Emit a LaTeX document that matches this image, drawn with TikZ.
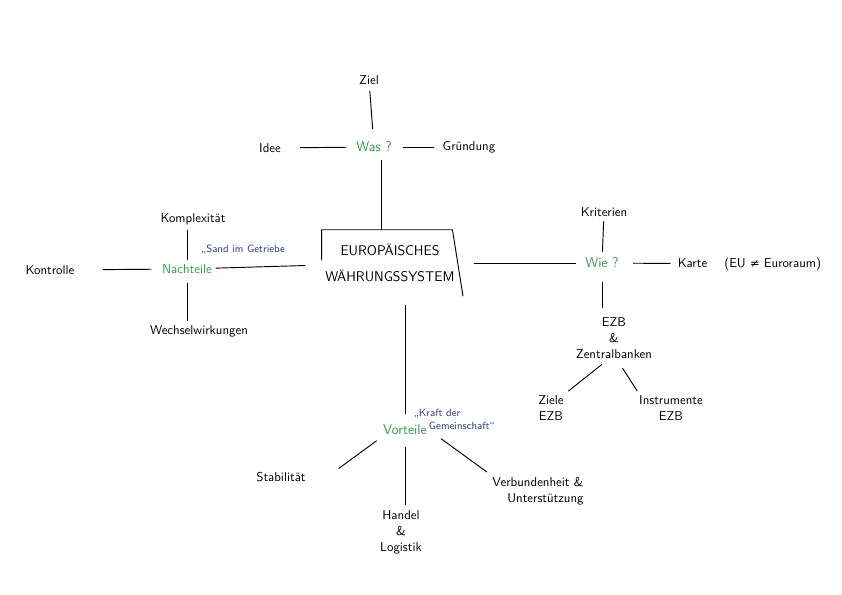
\documentclass[tikz,border=0pt,11pt]{standalone}
\usepackage{fontspec}
\newfontfamily\symbolfont{DejaVu Sans}[Scale=0.9]
\usetikzlibrary{positioning}
\definecolor{mapgreen}{RGB}{45,160,75}
\definecolor{quoteblue}{RGB}{40,60,160}

\begin{document}
\begin{tikzpicture}[
    x=0.03cm, y=-0.03cm,
    every node/.style={font=\sffamily, inner sep=3pt},
    topic/.style={font=\sffamily\large, text=mapgreen},
    citation/.style={font=\sffamily\footnotesize, text=quoteblue, align=left},
    link/.style={line width=0.8pt}
]
\useasboundingbox (0,0) rectangle (842,595);

% Nodes
\node (ems) [minimum width=4.02cm, minimum height=1.98cm, align=center,
    font=\sffamily\large] at (390,263) {EUROPÄISCHES\\[8pt]WÄHRUNGSSYSTEM};

\node (was) [topic] at (374,147) {Was ?};
\node (ziel) at (369,80) {Ziel};
\node (idee) at (270,148) {Idee};
\node (gruendung) at (469,147) {Gründung};

\node (nachteile) [topic, font=\sffamily] at (187,269) {Nachteile};
\node (komplex) at (193,219) {Komplexität};
\node (kontrolle) at (50,270) {Kontrolle};
\node (wechsel) at (199,331) {Wechselwirkungen};
\node (sand) [citation] at (243,249) {„Sand im Getriebe};

\node (wie) [topic] at (602,263) {Wie ?};
\node (kriterien) at (604,212) {Kriterien};
\node (karte) [anchor=west] at (674,264) {Karte \quad (EU {\symbolfont ≠} Euroraum)};
\node (ezb) [align=center] at (614,338) {EZB\\\&\\Zentralbanken};
\node (zieleezb) [align=center] at (551,408) {Ziele\\EZB};
\node (instrumente) [align=center] at (671,408) {Instrumente\\EZB};

\node (vorteile) [topic] at (405,430) {Vorteile};
\node (kraft) [citation, anchor=west] at (410,419) {„Kraft der\\\hspace{13pt}Gemeinschaft“};
\node (stabil) at (281,477) {Stabilität};
\node (handel) [align=center] at (401,532) {Handel\\\&\\Logistik};
\node (verbund) [align=right] at (538,491) {Verbundenheit \&\\Unterstützung};

% Frame
\draw[link] ([yshift=-26pt]ems.north west) -- (ems.north west)
    -- ([xshift=-5pt]ems.north east) -- ([xshift=4pt]ems.south east);

% Lines
\draw[link, shorten <=2.5pt, shorten >=8pt] (ziel) -- (was);
\draw[link, shorten <=13pt, shorten >=5pt] (idee) -- (was);
\draw[link, shorten <=6pt, shorten >=4pt] (was) -- (gruendung);
\draw[link, shorten <=4pt] ([xshift=6pt]was.south) -- ([xshift=6pt]was.south |- ems.north);

\draw[link, shorten >=14pt] (nachteile) -- (ems);
\draw[link, shorten <=1pt, shorten >=1pt] (komplex.south -| nachteile) -- (nachteile.north);
\draw[link, shorten <=21pt, shorten >=6pt] (kontrolle) -- (nachteile);
\draw[link, shorten <=5pt] (nachteile.south) -- (nachteile.south |- wechsel.north);

\draw[link, shorten <=13pt, shorten >=5pt] (ems) -- (wie);
\draw[link, shorten <=1pt, shorten >=2pt] (kriterien) -- (wie);
\draw[link, shorten <=9pt, shorten >=3pt] (wie) -- (karte);
\draw[link, shorten <=9pt, shorten >=5pt] (wie.south) -- (wie.south |- ezb.north);
\draw[link, shorten <=3pt, shorten >=1pt] ([xshift=-8pt]ezb.south) -- (zieleezb.north east);
\draw[link, shorten <=6pt, shorten >=1pt] ([xshift=4pt]ezb.south) -- ([xshift=2pt]instrumente.north west);

\draw[link, shorten <=7.5pt, shorten >=6pt] (vorteile.north |- ems.south) -- (vorteile.north);
\draw[link, shorten <=3pt] (vorteile.south west) -- ([xshift=25pt]stabil.north east);
\draw[link, shorten <=7pt, shorten >=1pt] (vorteile.south) -- (vorteile.south |- handel.north);
\draw[link, shorten >=2pt] ([xshift=9pt]vorteile.south east) -- (verbund.north west);

\end{tikzpicture}
\end{document}
